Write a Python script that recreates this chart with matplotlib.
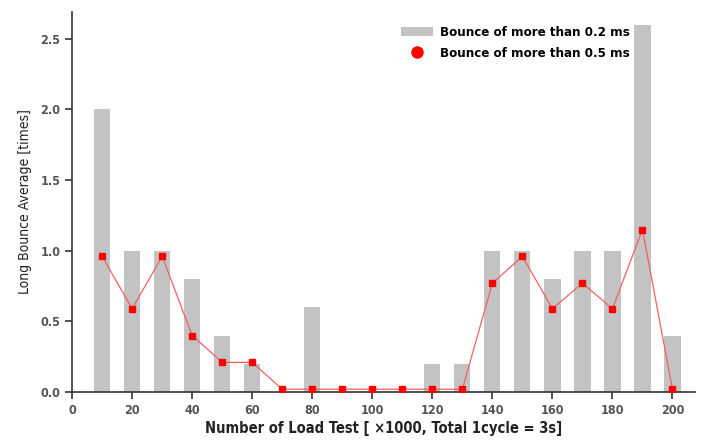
import numpy as np
import matplotlib
matplotlib.use('Agg')
import matplotlib.pyplot as plt
from matplotlib.patches import Patch
from matplotlib.lines import Line2D

plt.rcParams['font.family'] = ['DejaVu Sans']
plt.rcParams['font.stretch'] = 'condensed'

# load test count (x1000)
tests = [10, 20, 30, 40, 50, 60, 70, 80, 90, 100,
         110, 120, 130, 140, 150, 160, 170, 180, 190, 200]
# bounce > 0.2 ms
bounce_02 = [2.0, 1.0, 1.0, 0.8, 0.4, 0.2, 0.0, 0.6, 0.0, 0.0,
             0.0, 0.2, 0.2, 1.0, 1.0, 0.8, 1.0, 1.0, 2.6, 0.4]
# bounce > 0.5 ms
bounce_05 = [0.96, 0.59, 0.96, 0.40, 0.21, 0.21, 0.02, 0.02, 0.02, 0.02,
             0.02, 0.02, 0.02, 0.77, 0.96, 0.59, 0.77, 0.59, 1.15, 0.02]

fig = plt.figure(figsize=(7.07, 4.41), dpi=100)
ax = fig.add_axes([0.102, 0.111, 0.881, 0.862])

ax.bar(tests, bounce_02, width=5.4, color='#c3c3c3', zorder=1)
ax.plot(tests, bounce_05, color='#f06060', lw=0.9, marker='s', ms=5,
        mfc='#ff0000', mec='#ff0000', zorder=3)

ax.set_xlim(0, 207.5)
ax.set_ylim(0, 2.69)
ax.set_xticks(range(0, 201, 20))
ax.set_yticks([0.0, 0.5, 1.0, 1.5, 2.0, 2.5])
ax.set_yticklabels(['0.0', '0.5', '1.0', '1.5', '2.0', '2.5'])

for s in ['top', 'right']:
    ax.spines[s].set_visible(False)
for s in ['left', 'bottom']:
    ax.spines[s].set_linewidth(1.2)
    ax.spines[s].set_color('#333333')
ax.tick_params(direction='out', length=5, width=1.2, color='#333333',
               labelsize=9, labelcolor='#555555')
for lab in ax.get_xticklabels() + ax.get_yticklabels():
    lab.set_fontweight('bold')

ax.set_xlabel('Number of Load Test [ \u00d71000, Total 1cycle = 3s]',
              fontsize=10.5, fontweight='bold', color='#222222', labelpad=3)
ax.set_ylabel('Long Bounce Average [times]', fontsize=10, color='#222222',
              labelpad=6)

handles = [Patch(facecolor='#c3c3c3', edgecolor='none'),
           Line2D([], [], color='none', marker='o', ms=8,
                  mfc='#ff0000', mec='#ff0000')]
fig.legend(handles, ['Bounce of more than 0.2 ms', 'Bounce of more than 0.5 ms'],
           loc='upper left', bbox_to_anchor=(0.567, 0.94), frameon=False,
           borderpad=0, borderaxespad=0,
           prop={'size': 9.5, 'weight': 'bold', 'stretch': 'condensed'},
           handlelength=2.4, handletextpad=0.6, labelspacing=0.55)

fig.savefig('out.png', dpi=100)
